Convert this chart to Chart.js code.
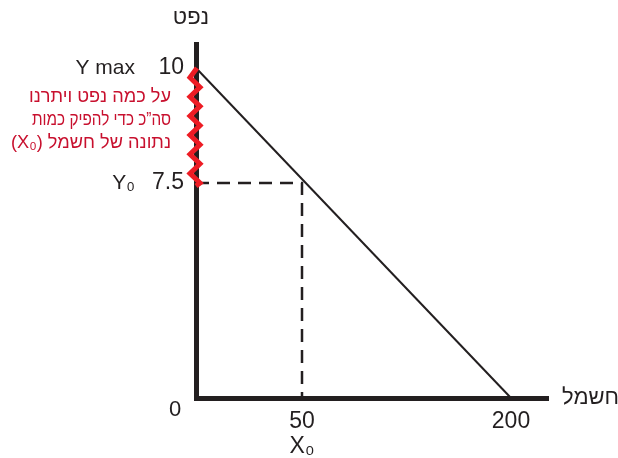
<!DOCTYPE html>
<html lang="he">
<head>
<meta charset="utf-8">
<title>נפט מול חשמל</title>
<script src="https://cdn.jsdelivr.net/npm/chart.js@4.4.1/dist/chart.umd.min.js"></script>
<style>
  html, body { margin: 0; padding: 0; background: #fff; }
  .chart-container { width: 618px; height: 458px; position: relative; }
</style>
</head>
<body>
<div class="chart-container">
  <canvas id="ppfChart"></canvas>
</div>
<script>
// production possibilities: oil (y) vs electricity (x)
const xTickValues = [50, 200];
const yTickValues = [7.5, 10];
const frontierX = [0, 200];
const frontierY = [10, 0];
const x0 = 50;
const y0 = 7.5;

const INK = '#231f20';
const RED_TEXT = '#c8102e';
const RED_ZIG = '#ed1c24';
const FONT = '"Liberation Sans", Arial, sans-serif';

// linear scale that is stretched piece by piece (sketch-style, not to scale)
class BrokenScale extends Chart.LinearScale {
  fraction(value) {
    const vs = this.options.knotValues, fs = this.options.knotFractions;
    for (let i = 1; i < vs.length; i++) {
      if (value <= vs[i] || i === vs.length - 1) {
        const t = (value - vs[i - 1]) / (vs[i] - vs[i - 1]);
        return fs[i - 1] + t * (fs[i] - fs[i - 1]);
      }
    }
    return 0;
  }
  getPixelForValue(value) {
    const f = this.fraction(value);
    return this.isHorizontal() ? this.left + f * this.width : this.bottom - f * this.height;
  }
  getValueForPixel(pixel) {
    const f = this.isHorizontal() ? (pixel - this.left) / this.width : (this.bottom - pixel) / this.height;
    const vs = this.options.knotValues, fs = this.options.knotFractions;
    for (let i = 1; i < fs.length; i++) {
      if (f <= fs[i] || i === fs.length - 1) {
        const t = (f - fs[i - 1]) / (fs[i] - fs[i - 1]);
        return vs[i - 1] + t * (vs[i] - vs[i - 1]);
      }
    }
    return 0;
  }
}
BrokenScale.id = 'broken';
BrokenScale.defaults = Chart.LinearScale.defaults;
Chart.register(BrokenScale);

// axis titles, letter labels, the red brace and its note
const sketchLabels = {
  id: 'sketchLabels',
  afterDraw(chart) {
    const { ctx, chartArea, scales } = chart;
    const ys = scales.y;
    const yTop = ys.getPixelForValue(frontierY[0]);
    const yMid = ys.getPixelForValue(y0);
    const axisX = chartArea.left;

    ctx.save();
    // red zigzag along the y axis between Ymax and Y0
    const cycles = 6;
    const step = (yMid - yTop) / (cycles * 2);
    ctx.beginPath();
    ctx.moveTo(axisX + 1, yTop);
    for (let i = 0; i < cycles * 2; i++) {
      const px = i % 2 === 0 ? axisX - 6 : axisX + 4;
      ctx.lineTo(px, yTop + step * (i + 1));
    }
    ctx.lineTo(axisX, yMid + 3);
    ctx.strokeStyle = RED_ZIG;
    ctx.lineWidth = 5;
    ctx.lineJoin = 'miter';
    ctx.stroke();

    ctx.fillStyle = INK;
    ctx.textBaseline = 'middle';
    ctx.font = '21px ' + FONT;
    ctx.textAlign = 'right';
    ctx.fillText('Y max', 135, yTop);
    ctx.fillText('Y₀', 135, yMid);
    ctx.font = '22px ' + FONT;
    ctx.textAlign = 'center';
    ctx.fillText('0', 175, chartArea.bottom + 12);
    ctx.fillText('נפט', axisX - 5, 18);
    ctx.textAlign = 'left';
    ctx.fillText('חשמל', chartArea.right + 14, chartArea.bottom);

    // note next to the brace
    ctx.fillStyle = RED_TEXT;
    ctx.font = '19px ' + FONT;
    ctx.direction = 'rtl';
    ctx.textAlign = 'right';
    const note = ['על כמה נפט ויתרנו', 'סה”כ כדי להפיק כמות', 'נתונה של חשמל (X₀)'];
    const noteWidths = [142, 139, 160];
    note.forEach((line, i) => ctx.fillText(line, 171, 97 + i * 23, noteWidths[i]));
    ctx.restore();
  }
};

new Chart(document.getElementById('ppfChart'), {
  type: 'scatter',
  data: {
    datasets: [
      {
        label: 'frontier',
        data: frontierX.map((x, i) => ({ x: x, y: frontierY[i] })),
        showLine: true,
        borderColor: INK,
        borderWidth: 2,
        pointRadius: 0,
        clip: false
      },
      {
        label: 'X0 / Y0',
        data: [{ x: 0, y: y0 }, { x: x0, y: y0 }, { x: x0, y: 0 }],
        showLine: true,
        borderColor: INK,
        borderWidth: 2.5,
        borderDash: [13, 8],
        pointRadius: 0,
        clip: false
      }
    ]
  },
  options: {
    responsive: true,
    maintainAspectRatio: false,
    animation: false,
    layout: { padding: { top: 44, right: 70, left: 0, bottom: 0 } },
    plugins: { legend: { display: false }, tooltip: { enabled: false } },
    scales: {
      x: {
        type: 'broken',
        min: 0,
        max: 226.5,
        knotValues: [0, 50, 200, 226.5],
        knotFractions: [0, 106 / 352, 315 / 352, 1],
        grid: { display: false, drawTicks: false },
        border: { display: true, color: INK, width: 5 },
        afterFit: (scale) => { scale.height = 60; },
        afterBuildTicks: (scale) => { scale.ticks = xTickValues.map(v => ({ value: v })); },
        ticks: {
          color: INK,
          padding: 12,
          font: { family: FONT, size: 23, lineHeight: 1.05 },
          callback: (v) => v === x0 ? [String(v), 'X₀'] : String(v)
        }
      },
      y: {
        type: 'broken',
        min: 0,
        max: 10.5,
        knotValues: [0, 7.5, 10, 10.5],
        knotFractions: [0, 215 / 354, 330 / 354, 1],
        grid: { display: false, drawTicks: false },
        border: { display: true, color: INK, width: 5 },
        afterFit: (scale) => { scale.width = 196; },
        afterBuildTicks: (scale) => { scale.ticks = yTickValues.map(v => ({ value: v })); },
        ticks: {
          color: INK,
          padding: 12,
          font: { family: FONT, size: 23 },
          callback: (v) => String(v)
        }
      }
    }
  },
  plugins: [sketchLabels]
});
</script>
</body>
</html>
